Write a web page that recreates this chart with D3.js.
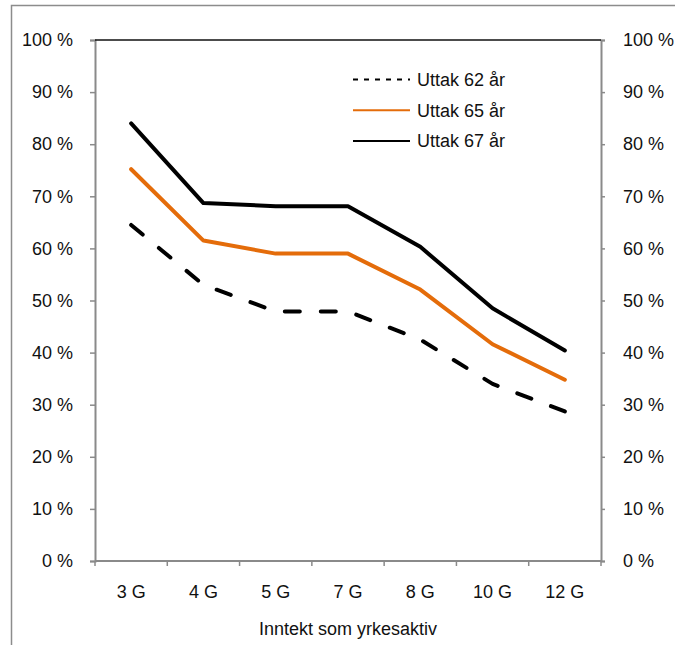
<!DOCTYPE html>
<html>
<head>
<meta charset="utf-8">
<script src="https://cdn.jsdelivr.net/npm/d3@7/dist/d3.min.js"></script>
<style>
  html, body { margin: 0; padding: 0; background: #fff; }
  svg { display: block; }
  text { font-family: "Liberation Sans", Arial, sans-serif; fill: #111; }
</style>
</head>
<body>
<svg id="chart" width="675" height="645"></svg>
<script>
// ---- data ----
const categories = ["3 G", "4 G", "5 G", "7 G", "8 G", "10 G", "12 G"];
const uttak62 = [64.5, 53.0, 47.9, 47.9, 42.5, 34.0, 28.7];
const uttak65 = [75.2, 61.5, 59.0, 59.0, 52.1, 41.6, 34.8];
const uttak67 = [84.0, 68.7, 68.1, 68.1, 60.3, 48.5, 40.4];
const seriesNames = ["Uttak 62 år", "Uttak 65 år", "Uttak 67 år"];
const yTicks = [0, 10, 20, 30, 40, 50, 60, 70, 80, 90, 100];
const xTitle = "Inntekt som yrkesaktiv";

// ---- layout ----
const W = 675, H = 645;
const pLeft = 95, pRight = 601, pTop = 40, pBottom = 561;
const FS = 18;
const svg = d3.select("#chart");

svg.append("rect").attr("width", W).attr("height", H).attr("fill", "#fff");
// outer chart border (cut at right/bottom)
svg.append("rect")
  .attr("x", 11.5).attr("y", 5.5).attr("width", 800).attr("height", 800)
  .attr("fill", "none").attr("stroke", "#8c8c8c").attr("stroke-width", 1.5);

const x = d3.scaleBand().domain(categories).range([pLeft, pRight]).padding(0);
const y = d3.scaleLinear().domain([0, 100]).range([pBottom, pTop]);

const axisColor = "#8a8a8a";

// left axis
const gl = svg.append("g").attr("transform", `translate(${pLeft},0)`)
  .call(d3.axisLeft(y).tickValues(yTicks).tickSize(5).tickPadding(17)
    .tickFormat(d => d + " %"));
// right axis
const gr = svg.append("g").attr("transform", `translate(${pRight},0)`)
  .call(d3.axisRight(y).tickValues(yTicks).tickSize(4).tickPadding(18)
    .tickFormat(d => d + " %"));
[gl, gr].forEach(g => {
  g.select(".domain").attr("stroke", axisColor).attr("stroke-width", 2);
  g.selectAll(".tick line").attr("stroke", axisColor).attr("stroke-width", 1.5);
  g.selectAll(".tick text").attr("font-size", FS).attr("fill", "#111")
    .attr("font-family", "Liberation Sans, Arial, sans-serif");
});

// top border of plot
svg.append("line").attr("x1", pLeft).attr("x2", pRight).attr("y1", pTop).attr("y2", pTop)
  .attr("stroke", "#111").attr("stroke-width", 1.5);

// bottom axis: labels via axis, tick marks at band edges
const gb = svg.append("g").attr("transform", `translate(0,${pBottom})`)
  .call(d3.axisBottom(x).tickSize(0).tickPadding(24));
gb.select(".domain").remove();
gb.selectAll(".tick text").attr("font-size", FS).attr("fill", "#111")
  .attr("font-family", "Liberation Sans, Arial, sans-serif");
svg.append("line").attr("x1", pLeft).attr("x2", pRight).attr("y1", pBottom).attr("y2", pBottom)
  .attr("stroke", axisColor).attr("stroke-width", 2);
const edges = categories.map(c => x(c)).concat([x.range()[1]]);
svg.selectAll(".xtick").data(edges).enter().append("line")
  .attr("x1", d => d).attr("x2", d => d)
  .attr("y1", pBottom).attr("y2", pBottom + 5)
  .attr("stroke", axisColor).attr("stroke-width", 1.5);

// axis title
svg.append("text").attr("x", (pLeft + pRight) / 2).attr("y", 635)
  .attr("text-anchor", "middle").attr("font-size", FS).text(xTitle);

// lines
const line = d3.line()
  .x((d, i) => x(categories[i]) + x.bandwidth() / 2)
  .y(d => y(d));

const series = [
  { name: seriesNames[0], values: uttak62, color: "#000", dash: "15,21", legDash: "5,6" },
  { name: seriesNames[1], values: uttak65, color: "#E46C0A", dash: null, legDash: null },
  { name: seriesNames[2], values: uttak67, color: "#000", dash: null, legDash: null }
];

series.forEach(s => {
  svg.append("path").datum(s.values)
    .attr("d", line)
    .attr("fill", "none")
    .attr("stroke", s.color)
    .attr("stroke-width", 4)
    .attr("stroke-linejoin", "round")
    .attr("stroke-linecap", "round")
    .attr("stroke-dasharray", s.dash);
});

// legend
const lg = svg.append("g");
series.forEach((s, i) => {
  const ly = 79.5 + i * 30.7;
  lg.append("line").attr("x1", 353).attr("x2", 410).attr("y1", ly).attr("y2", ly)
    .attr("stroke", s.color).attr("stroke-width", 2)
    .attr("stroke-dasharray", s.legDash);
  lg.append("text").attr("x", 417).attr("y", ly).attr("dy", "0.35em")
    .attr("font-size", FS).text(s.name);
});
</script>
</body>
</html>
